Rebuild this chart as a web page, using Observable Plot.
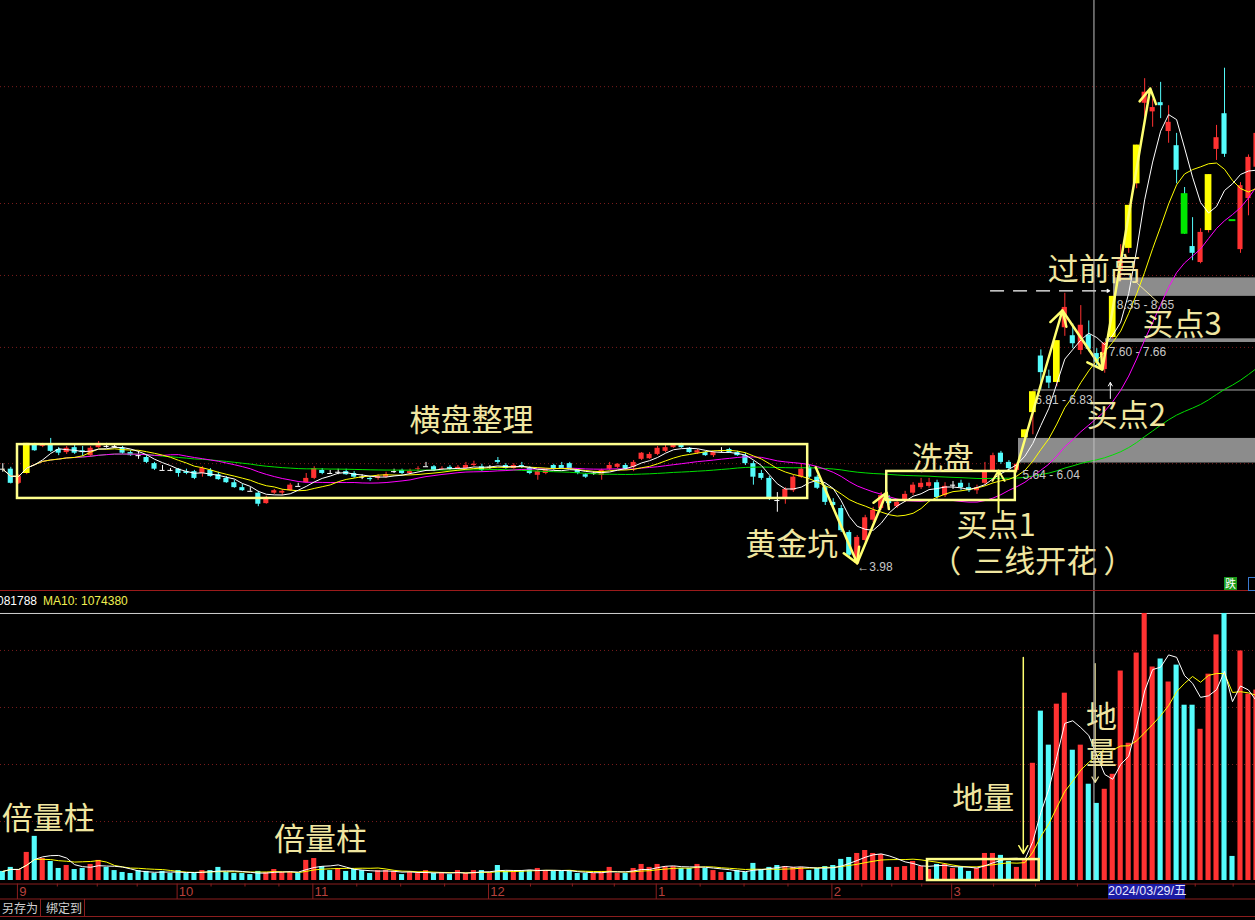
<!DOCTYPE html>
<html><head><meta charset="utf-8">
<script src="https://cdn.jsdelivr.net/npm/d3@7"></script>
<script src="https://cdn.jsdelivr.net/npm/@observablehq/plot@0.6"></script>
<style>
body{margin:0;background:#000;}
#wrap{position:relative;width:1255px;height:920px;background:#000;overflow:hidden;font-family:"Liberation Sans",Arial,sans-serif;}
.pnl{position:absolute;left:0;}
</style></head><body><div id="wrap"></div>
<script>
// ---------- data ----------
const opens = [5.54,5.54,5.31,5.47,5.93,5.91,5.93,5.86,5.81,5.89,
5.84,5.76,5.89,5.91,5.91,5.88,5.81,5.76,5.73,5.63,
5.52,5.52,5.54,5.50,5.50,5.47,5.52,5.45,5.39,5.32,
5.24,5.18,5.15,4.98,5.15,5.15,5.19,5.26,5.32,5.39,
5.52,5.47,5.49,5.50,5.47,5.41,5.39,5.39,5.41,5.50,
5.52,5.47,5.54,5.58,5.58,5.54,5.57,5.55,5.55,5.60,
5.58,5.57,5.68,5.60,5.55,5.60,5.55,5.44,5.47,5.60,
5.60,5.63,5.52,5.45,5.47,5.44,5.54,5.57,5.60,5.57,
5.70,5.71,5.78,5.83,5.89,5.93,5.88,5.80,5.81,5.76,
5.84,5.86,5.81,5.76,5.63,5.47,5.39,5.03,5.06,5.19,
5.41,5.57,5.41,5.24,5.00,4.90,4.51,4.01,4.38,4.71,
4.90,5.06,4.93,5.03,5.15,5.24,5.26,5.32,5.11,5.28,
5.31,5.24,5.19,5.31,5.52,5.80,5.65,5.52,6.05,6.46,
7.38,7.05,6.95,7.84,7.71,7.47,7.72,7.42,7.16,7.68,
8.76,9.13,10.18,11.49,11.35,11.50,11.03,10.80,10.02,9.16,
8.90,9.42,10.74,11.32,9.59,9.11,9.94,10.45];
const highs = [5.63,5.57,5.45,5.96,5.96,5.96,6.04,5.89,5.91,5.93,
5.91,5.91,5.99,5.96,5.94,5.91,5.84,5.83,5.76,5.65,
5.60,5.55,5.55,5.54,5.52,5.58,5.55,5.49,5.42,5.36,
5.29,5.24,5.18,5.10,5.21,5.21,5.31,5.31,5.47,5.58,
5.55,5.52,5.54,5.54,5.50,5.45,5.42,5.45,5.49,5.54,
5.54,5.54,5.58,5.65,5.60,5.58,5.60,5.60,5.65,5.67,
5.62,5.60,5.73,5.63,5.63,5.65,5.58,5.52,5.54,5.62,
5.65,5.65,5.54,5.47,5.50,5.54,5.65,5.63,5.63,5.68,
5.81,5.81,5.91,5.93,5.94,5.96,5.89,5.86,5.83,5.83,
5.89,5.88,5.83,5.80,5.67,5.52,5.42,5.16,5.24,5.44,
5.63,5.60,5.44,5.28,5.06,4.95,4.54,4.46,4.79,4.92,
5.16,5.11,5.05,5.18,5.32,5.39,5.39,5.36,5.32,5.34,
5.36,5.31,5.28,5.65,5.80,5.83,5.68,5.64,6.18,6.81,
7.48,7.15,7.63,8.40,7.90,8.20,7.95,7.50,7.60,8.35,
9.19,9.83,10.81,11.89,11.56,11.83,11.45,11.00,10.12,9.63,
9.45,10.33,11.13,12.06,9.59,10.20,10.65,11.05];
const lows = [5.49,5.30,5.29,5.45,5.83,5.89,5.81,5.76,5.78,5.78,
5.75,5.73,5.88,5.88,5.88,5.78,5.75,5.70,5.63,5.52,
5.52,5.50,5.41,5.45,5.37,5.41,5.41,5.36,5.31,5.23,
5.18,5.18,4.93,4.97,5.13,5.11,5.18,5.26,5.31,5.37,
5.45,5.47,5.45,5.44,5.39,5.37,5.34,5.36,5.39,5.47,
5.45,5.45,5.50,5.58,5.50,5.52,5.52,5.54,5.54,5.58,
5.50,5.54,5.62,5.54,5.54,5.55,5.45,5.36,5.45,5.52,
5.54,5.54,5.45,5.39,5.44,5.36,5.52,5.55,5.52,5.50,
5.68,5.70,5.76,5.81,5.88,5.88,5.80,5.78,5.75,5.73,
5.80,5.80,5.75,5.60,5.28,5.36,5.03,4.84,4.97,5.16,
5.39,5.39,5.21,4.95,4.90,4.51,4.10,3.98,4.35,4.67,
4.87,4.95,4.90,5.00,5.11,5.21,5.23,5.05,5.08,5.21,
5.19,5.16,5.13,5.28,5.49,5.62,5.52,5.49,6.04,6.10,
6.83,6.85,6.88,7.70,7.50,7.40,7.45,7.20,7.10,7.66,
8.65,9.05,10.10,11.26,11.10,11.24,10.84,10.18,9.36,8.93,
8.88,9.38,10.56,10.61,9.59,9.05,9.66,10.30];
const closes = [5.54,5.31,5.42,5.96,5.84,5.93,5.83,5.80,5.88,5.80,
5.81,5.88,5.96,5.91,5.91,5.80,5.76,5.76,5.65,5.54,
5.52,5.52,5.47,5.47,5.39,5.55,5.42,5.37,5.32,5.24,
5.19,5.18,4.97,5.08,5.19,5.18,5.28,5.26,5.39,5.55,
5.47,5.47,5.49,5.45,5.41,5.41,5.37,5.42,5.45,5.50,
5.47,5.50,5.55,5.58,5.52,5.55,5.54,5.57,5.60,5.62,
5.52,5.57,5.65,5.55,5.60,5.57,5.47,5.50,5.52,5.54,
5.55,5.55,5.47,5.41,5.47,5.52,5.60,5.62,5.54,5.65,
5.80,5.78,5.88,5.89,5.93,5.89,5.81,5.84,5.76,5.81,
5.84,5.81,5.76,5.63,5.41,5.39,5.05,5.03,5.21,5.41,
5.54,5.41,5.23,5.00,4.95,4.54,4.14,4.43,4.75,4.87,
5.11,4.98,5.00,5.13,5.28,5.31,5.32,5.08,5.26,5.28,
5.24,5.19,5.24,5.49,5.76,5.65,5.55,5.62,6.18,6.80,
7.11,6.94,7.63,8.17,7.58,7.88,7.49,7.28,7.59,8.35,
8.94,9.83,10.81,11.67,11.42,11.45,11.18,10.40,9.36,9.05,
9.39,10.33,10.93,10.66,9.59,10.15,10.61,11.00];
// volume, thousand lots
const volumes = [52,75,63,161,253,126,109,69,86,63,
69,92,115,75,57,46,40,57,52,40,
52,40,57,40,40,57,57,75,46,40,
40,34,52,46,63,46,46,40,115,126,
80,57,69,52,63,57,40,57,57,52,
34,46,40,57,40,40,34,57,40,57,
57,40,86,52,52,57,57,69,57,52,
52,52,40,40,40,52,75,40,40,69,
92,75,92,80,80,69,69,92,69,57,
46,46,57,46,98,63,75,86,80,75,
75,57,69,80,86,121,132,155,172,155,
149,75,75,80,109,80,63,92,92,69,
75,52,69,155,155,144,109,75,121,672,
971,776,1011,1074,747,776,552,442,523,609,
1201,787,1304,1531,1224,1270,1138,1235,1005,1005,
867,1183,1408,1531,138,1316,1069,1092];
const limitUp = [3,128,129,132,139,141,142,151];
const limitDown = [148,154];

const monthStart = [2,22,39,61,82,104,119,140];
const monthLabel = ["9","10","11","12","1","2","3",""];
const monthEnd = 159;
const priceGrid = [11.76,9.86,8.69,7.52,5.63];
const volGrid = [338,665,992,1319];
const volTop = 1531;
const cursorIndex = 136.65;

// gaps (缺口) : low, high, start index
const gapLow = [5.64,6.81,7.60,8.35];
const gapHigh = [6.04,6.83,7.66,8.65];
const gapStart = [127.2,129.1,138.1,139.1];
const gapText = ["5.64 - 6.04","6.81 - 6.83","7.60 - 7.66","8.35 - 8.65"];
const gapTextX = [127.7,129.3,138.5,139.5];
const gapTextY = [5.45,6.66,7.45,8.21];

// annotation texts (upper panel): text, index, price
const upText = ["横盘整理","洗盘","黄金坑","买点1","三线开花","（","）","过前高","买点3","买点2"];
const upTextX = [58.7,117.7,98.8,124.4,129.3,118.1,139.8,136.7,147.7,140.7];
const upTextY = [6.33,5.71,4.30,4.62,4.03,4.03,4.03,8.77,7.88,6.41];
// annotation texts (volume panel)
const volText = ["倍量柱","倍量柱","地量","地","量"];
const volTextX = [5.7,39.8,122.8,137.6,137.6];
const volTextY = [350,229,464,930,722];

// zigzag arrows
const zigAx = [101.8,107.0,110.7], zigAy = [5.57,4.01,5.16];
const zigBx = [126.8,132.7,137.7,143.7], zigBy = [5.49,8.12,7.16,11.73];
// boxes
const boxX1 = [1.84,110.7], boxX2 = [100.8,126.8], boxY1 = [5.94,5.503], boxY2 = [5.064,5.031];
const volBox = {x1:115.8, x2:129.8, y1:0, y2:120};

// ---------- colors ----------
const RED="#FF3232", CYAN="#54FCFC", YEL="#FFFF00", GRN="#00E600";
const TXT="#F0E6A0", BOXC="#FFFF8C", ARR="#FFFF70";
const GRID="#7a1c1c";

const X0 = -0.288, X1 = 156.88;
const data = opens.map((o,i)=>({i,o,h:highs[i],l:lows[i],c:closes[i],v:volumes[i]}));
const isUp = i=>limitUp.includes(i), isDn = i=>limitDown.includes(i);
const base = d => d.c>d.o?RED:(d.c<d.o?CYAN:"#ffffff");
const bodyCol = d => isUp(d.i)?YEL:(isDn(d.i)?GRN:base(d));
const hw = d => (isUp(d.i)||isDn(d.i))?0.42:0.32;
const volCol = d => d.c>d.o?RED:(d.c<d.o?CYAN:((d.i>0&&d.c>closes[d.i-1])?RED:CYAN));
const seg = (xs,ys)=>d3.pairs(xs.map((x,k)=>[x,ys[k]])).map(([a,b])=>({x1:a[0],y1:a[1],x2:b[0],y2:b[1]}));
const CJK = '"Noto Sans CJK SC","Noto Sans",sans-serif';
const wrap = document.getElementById("wrap");
function place(node, top){ node.classList.add("pnl"); node.style.top = top+"px"; wrap.appendChild(node); }

// ---------- upper panel ----------
const bodies = data.filter(d=>d.o!==d.c), dojis = data.filter(d=>d.o===d.c);
const gaps = gapLow.map((lo,k)=>({lo,hi:gapHigh[k],s:gapStart[k],t:gapText[k],tx:gapTextX[k],ty:gapTextY[k]}));
const upper = Plot.plot({
  width:1255, height:591, margin:0,
  x:{domain:[X0,X1], axis:null}, y:{domain:[3.551,13.161], axis:null},
  color:{type:"identity"},
  style:{background:"transparent", overflow:"visible"},
  marks:[
    Plot.ruleY(priceGrid,{stroke:GRID, strokeDasharray:"1,3"}),
    Plot.rect(gaps,{x1:"s", x2:X1, y1:"lo", y2:"hi", fill:"#8c8c8c"}),
    Plot.ruleX(data,{x:"i", y1:"l", y2:"h", stroke:base, strokeWidth:1}),
    Plot.rect(bodies,{x1:d=>d.i-hw(d), x2:d=>d.i+hw(d), y1:"o", y2:"c", fill:bodyCol}),
    Plot.ruleY(dojis,{y:"o", x1:d=>d.i-hw(d), x2:d=>d.i+hw(d), stroke:bodyCol, strokeWidth:d=>isDn(d.i)?2:1}),
    Plot.lineY(data, Plot.windowY({k:60, anchor:"end", strict:false},{x:"i", y:"c", stroke:"#00E000", strokeWidth:1})),
    Plot.lineY(data, Plot.windowY({k:20, anchor:"end", strict:false},{x:"i", y:"c", stroke:"#FF00FF", strokeWidth:1})),
    Plot.lineY(data, Plot.windowY({k:10, anchor:"end", strict:false},{x:"i", y:"c", stroke:"#FFFF00", strokeWidth:1})),
    Plot.lineY(data, Plot.windowY({k:5, anchor:"end", strict:false},{x:"i", y:"c", stroke:"#FFFFFF", strokeWidth:1})),
    Plot.text(gaps,{x:"tx", y:"ty", text:"t", textAnchor:"start", fill:"#c8c8c8", fontSize:12, fontFamily:"Liberation Sans, Arial"}),
    Plot.text([{x:107.0,y:3.94}],{x:"x", y:"y", text:()=>"←3.98", textAnchor:"start", fill:"#c8c8c8", fontSize:12, fontFamily:"Liberation Sans, Arial"}),
    Plot.rect(boxX1.map((x,k)=>({x1:x,x2:boxX2[k],y1:boxY1[k],y2:boxY2[k]})),{x1:"x1",x2:"x2",y1:"y1",y2:"y2", fill:"none", stroke:BOXC, strokeWidth:2.5}),
    Plot.arrow(seg(zigAx,zigAy),{x1:"x1",y1:"y1",x2:"x2",y2:"y2", stroke:ARR, strokeWidth:2.5, headLength:10}),
    Plot.arrow(seg(zigBx,zigBy),{x1:"x1",y1:"y1",x2:"x2",y2:"y2", stroke:ARR, strokeWidth:2.5, headLength:10}),
    Plot.arrow([{x1:124.7,y1:4.84,x2:124.7,y2:5.52}],{x1:"x1",y1:"y1",x2:"x2",y2:"y2", stroke:ARR, strokeWidth:2, headLength:9}),
    Plot.ruleY([8.44],{x1:123.7, x2:137.8, stroke:"#ffffff", strokeWidth:1.3, strokeDasharray:"14,9"}),
    Plot.arrow([{x1:137.6,y1:8.44,x2:138.6,y2:8.44}],{x1:"x1",y1:"y1",x2:"x2",y2:"y2", stroke:"#ffffff", strokeWidth:1.3, headLength:6}),
    Plot.arrow([{x1:138.7,y1:6.69,x2:138.7,y2:6.95}],{x1:"x1",y1:"y1",x2:"x2",y2:"y2", stroke:"#ffffff", strokeWidth:1, headLength:6}),
    Plot.line([[142.1,8.56],[144.7,8.25]],{stroke:TXT, strokeWidth:1}),
    Plot.text(upText.map((t,k)=>({t,x:upTextX[k],y:upTextY[k]})),{x:"x", y:"y", text:"t", fill:TXT, fontSize:31, fontFamily:CJK}),
    Plot.ruleX([cursorIndex],{stroke:"#c0c0c0", strokeWidth:1})
  ]
});
place(upper, 0);

// ---------- volume panel ----------
const lower = Plot.plot({
  width:1255, height:289, margin:0,
  x:{domain:[X0,X1], axis:null}, y:{domain:[0,1657], axis:null},
  color:{type:"identity"},
  style:{background:"transparent", overflow:"visible"},
  marks:[
    Plot.ruleY(volGrid,{stroke:GRID, strokeDasharray:"1,3"}),
    Plot.ruleY([volTop],{stroke:"#d0d0d0", strokeWidth:1}),
    Plot.rectY(data,{x1:d=>d.i-0.32, x2:d=>d.i+0.32, y:"v", fill:volCol}),
    Plot.lineY(data, Plot.windowY({k:10, anchor:"end", strict:false},{x:"i", y:"v", stroke:"#FFFF00", strokeWidth:1})),
    Plot.lineY(data, Plot.windowY({k:5, anchor:"end", strict:false},{x:"i", y:"v", stroke:"#FFFFFF", strokeWidth:1})),
    Plot.rect([volBox],{x1:"x1",x2:"x2",y1:"y1",y2:"y2", fill:"none", stroke:BOXC, strokeWidth:2.5}),
    Plot.arrow([{x1:127.8,y1:1279,x2:127.8,y2:155}],{x1:"x1",y1:"y1",x2:"x2",y2:"y2", stroke:ARR, strokeWidth:1.5, headLength:9}),
    Plot.arrow([{x1:136.8,y1:1244,x2:136.8,y2:562}],{x1:"x1",y1:"y1",x2:"x2",y2:"y2", stroke:TXT, strokeWidth:1.2, headLength:8}),
    Plot.text(volText.map((t,k)=>({t,x:volTextX[k],y:volTextY[k]})),{x:"x", y:"y", text:"t", fill:TXT, fontSize:31, fontFamily:CJK}),
    Plot.ruleX([cursorIndex],{stroke:"#c0c0c0", strokeWidth:1})
  ]
});
place(lower, 591);

// ---------- time axis ----------
const minor = [];
monthStart.forEach((s,k)=>{ const e = k<monthStart.length-1?monthStart[k+1]:monthEnd; for(let q=1;q<4;q++) minor.push(s+(e-s)*q/4 - 0.17); });
const axis = Plot.plot({
  width:1255, height:19, margin:0,
  x:{domain:[X0,X1], axis:null}, y:{domain:[0,19], range:[0,19], axis:null},
  style:{background:"transparent", overflow:"visible"},
  marks:[
    Plot.ruleY([3.5,18.5],{stroke:"#8b1e1e"}),
    Plot.ruleX(monthStart.map(s=>s-0.17),{y1:3.5, y2:19, stroke:"#8b1e1e"}),
    Plot.ruleX(minor,{y1:3.5, y2:6.5, stroke:"#8b1e1e"}),
    Plot.text(monthStart.filter((d,k)=>monthLabel[k]),{x:d=>d+0.05, y:11.5, text:(d,k)=>monthLabel[k], textAnchor:"start", fill:"#b8403c", fontSize:13, fontFamily:"Liberation Sans, Arial"})
  ]
});
place(axis, 880);

// ---------- chrome ----------
function addDiv(html, style){ const d=document.createElement("div"); d.innerHTML=html; d.setAttribute("style",style); wrap.appendChild(d); return d; }
addDiv("", "position:absolute;left:0;top:590px;width:1255px;height:1px;background:#9b1b1b;");
addDiv("081788", "position:absolute;top:594px;left:-3px;color:#ffffff;font-size:12px;line-height:14px;white-space:nowrap;");
addDiv("MA10: 1074380", "position:absolute;top:594px;left:43px;color:#f0f050;font-size:12px;line-height:14px;white-space:nowrap;");
addDiv("跌", "position:absolute;left:1224px;top:577px;width:13px;height:13px;background:#1a9a1a;color:#fff;font-size:11px;line-height:13px;text-align:center;font-family:'Noto Sans CJK SC';");
addDiv("", "position:absolute;left:1248px;top:577px;width:10px;height:12px;border:1px solid #3a7ad0;");
addDiv("2024/03/29/五", "position:absolute;left:1108px;top:884px;width:77px;height:15px;background:#1c1ca4;color:#e8e8ff;font-size:12.5px;line-height:15px;text-align:center;white-space:nowrap;font-family:'Liberation Sans','Noto Sans CJK SC';");
addDiv("另存为", "position:absolute;left:2px;top:900px;color:#d0d0d0;font-size:12px;line-height:15px;font-family:'Noto Sans CJK SC';");
addDiv("绑定到", "position:absolute;left:46px;top:900px;color:#d0d0d0;font-size:12px;line-height:15px;font-family:'Noto Sans CJK SC';");
addDiv("", "position:absolute;left:40px;top:899px;width:1px;height:17px;background:#8b1e1e;");
addDiv("", "position:absolute;left:84px;top:899px;width:1px;height:17px;background:#8b1e1e;");
addDiv("", "position:absolute;left:0;top:916px;width:1255px;height:1px;background:#8b1e1e;");
</script></body></html>
